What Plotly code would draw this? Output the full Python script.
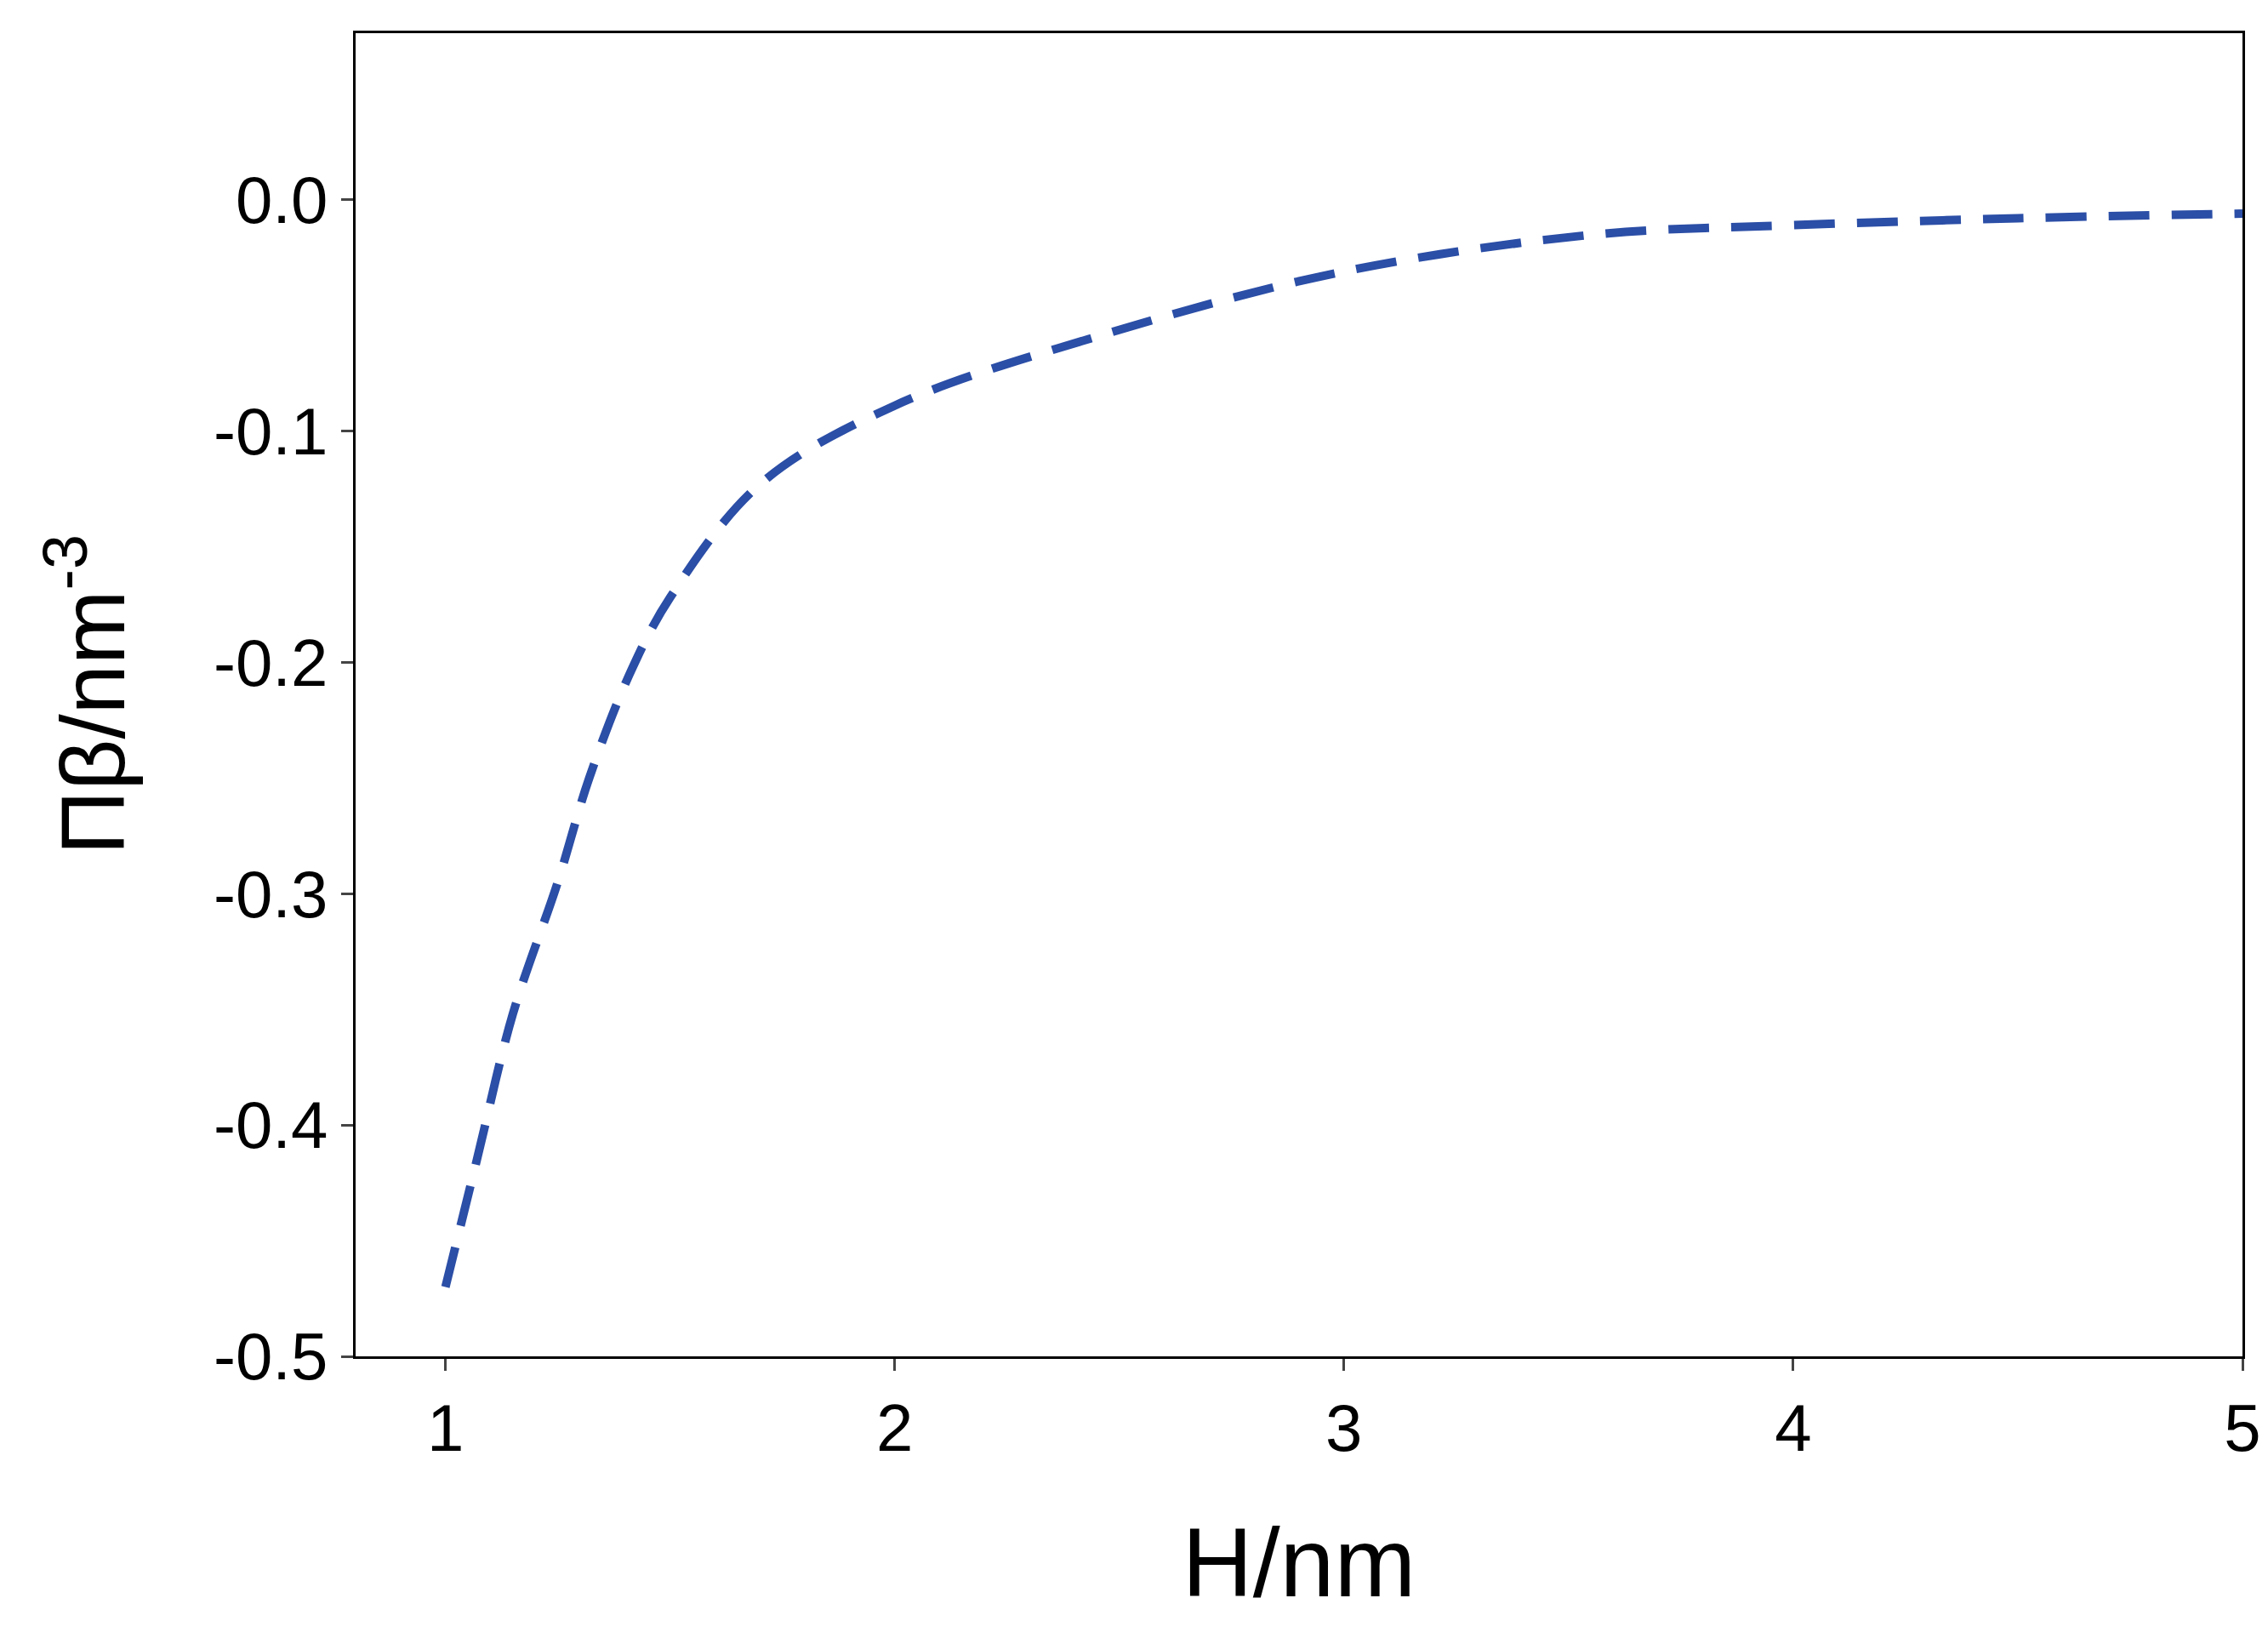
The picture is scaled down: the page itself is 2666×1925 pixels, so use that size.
import plotly.graph_objects as go

# values
h_nm = [1.0, 1.07, 1.15, 1.25, 1.32, 1.41, 1.5, 1.7, 2.0, 2.47, 3.0, 3.56, 4.0, 4.5, 5.0]
pi_beta = [-0.47, -0.415, -0.352, -0.295, -0.25, -0.205, -0.172, -0.123, -0.089,
           -0.058, -0.031, -0.015, -0.011, -0.008, -0.006]

x_ticks = [1, 2, 3, 4, 5]
y_ticks = [-0.5, -0.4, -0.3, -0.2, -0.1, 0.0]

fig = go.Figure()
fig.add_trace(go.Scatter(x=h_nm, y=pi_beta, mode="lines", line_shape="spline",
                         line=dict(color="#2b4ea6", width=10, dash="48px,26px")))

axis_common = dict(showline=True, linecolor="black", linewidth=3, mirror=True,
                   showgrid=False, zeroline=False, ticks="outside", ticklen=14,
                   tickwidth=3, tickfont=dict(family="Liberation Sans", size=78, color="black"))

fig.update_layout(
    width=2666, height=1925, showlegend=False,
    paper_bgcolor="white", plot_bgcolor="white",
    margin=dict(l=410, r=38, t=31, b=339),
    xaxis=dict(range=[0.8, 5], tickvals=x_ticks, ticktext=[str(t) for t in x_ticks],
               title=dict(text="H/nm", font=dict(family="Liberation Sans", size=115, color="black"), standoff=75),
               **axis_common),
    yaxis=dict(range=[-0.5, 0.072], tickvals=y_ticks, ticktext=[f"{t:.1f}" for t in y_ticks],
               title=dict(text="Πβ/nm<sup>-3</sup>", font=dict(family="Liberation Sans", size=105, color="black"), standoff=70),
               **axis_common),
)

fig.write_html("out.html")
